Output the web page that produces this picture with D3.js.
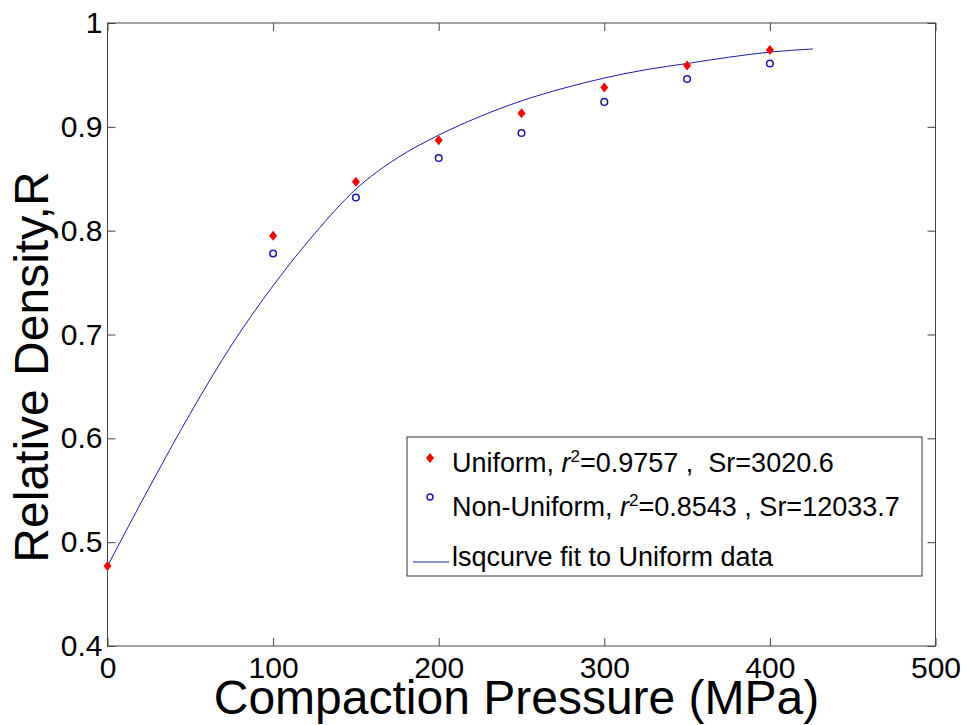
<!DOCTYPE html>
<html>
<head>
<meta charset="utf-8">
<title>Relative density vs compaction pressure</title>
<script src="https://d3js.org/d3.v7.min.js"></script>
<style>
body { margin: 0; background: #fff; }
svg { font-family: "Liberation Sans", Arial, sans-serif; }
.axis text { font-size: 30px; fill: #000; }
.axis line { stroke: #444; }
.axis path { display: none; }
</style>
</head>
<body>
<svg width="967" height="725"></svg>
<script>

// measured points
var pressure = [0, 100, 150, 200, 250, 300, 350, 400];
var uniform = [0.477, 0.795, 0.847, 0.887, 0.913, 0.938, 0.959, 0.974];
var pressureNU = [100, 150, 200, 250, 300, 350, 400];
var nonUniform = [0.778, 0.832, 0.870, 0.894, 0.924, 0.946, 0.961];

// lsqcurve fit
var fitP = [0, 25, 50, 75, 100, 125, 150, 175, 200, 225, 250, 275, 300, 325, 350, 375, 400, 426];
var fitR = [0.477, 0.552, 0.624, 0.690, 0.747, 0.797, 0.840, 0.870, 0.892, 0.910, 0.925, 0.937, 0.947, 0.955, 0.961, 0.967, 0.972, 0.975];

var xTicks = [0, 100, 200, 300, 400, 500];
var yTicks = [0.4, 0.5, 0.6, 0.7, 0.8, 0.9, 1];

var legendLabels = [
  ["Uniform, ", "r", "2", "=0.9757 ,  Sr=3020.6"],
  ["Non-Uniform, ", "r", "2", "=0.8543 , Sr=12033.7"],
  ["lsqcurve fit to Uniform data"]
];

var svg = d3.select("svg"),
    plotL = 107.5, plotR = 935.5, plotT = 23, plotB = 646;

var x = d3.scaleLinear().domain([0, 500]).range([plotL, plotR]);
var y = d3.scaleLinear().domain([0.4, 1]).range([plotB, plotT]);

// ticks on all four sides, pointing inward
svg.append("g").attr("class", "axis")
    .attr("transform", "translate(0," + plotB + ")")
    .call(d3.axisBottom(x).tickValues(xTicks).tickSize(-8).tickPadding(11).tickFormat(d3.format("d")));
svg.append("g").attr("class", "axis")
    .attr("transform", "translate(0," + plotT + ")")
    .call(d3.axisTop(x).tickValues(xTicks).tickSize(-8).tickFormat(""));
svg.append("g").attr("class", "axis")
    .attr("transform", "translate(" + plotL + ",0)")
    .call(d3.axisLeft(y).tickValues(yTicks).tickSize(-8).tickPadding(5).tickFormat(function(d) { return d === 1 ? "1" : d3.format(".1f")(d); }));
svg.append("g").attr("class", "axis")
    .attr("transform", "translate(" + plotR + ",0)")
    .call(d3.axisRight(y).tickValues(yTicks).tickSize(-8).tickFormat(""));

svg.append("rect")
    .attr("x", plotL).attr("y", plotT)
    .attr("width", plotR - plotL).attr("height", plotB - plotT)
    .attr("fill", "none").attr("stroke", "#444");

// fit curve
var line = d3.line()
    .x(function(d, i) { return x(fitP[i]); })
    .y(function(d) { return y(d); })
    .curve(d3.curveMonotoneX);

svg.append("path")
    .datum(fitR)
    .attr("d", line)
    .attr("fill", "none")
    .attr("stroke", "#1c1ca8")
    .attr("stroke-width", 1);

var diamond = "M0,-5L4,0L0,5L-4,0Z";

svg.append("g").selectAll("circle")
    .data(nonUniform).enter().append("circle")
    .attr("cx", function(d, i) { return x(pressureNU[i]); })
    .attr("cy", function(d) { return y(d); })
    .attr("r", 3.3)
    .attr("fill", "none")
    .attr("stroke", "#1a1aa8")
    .attr("stroke-width", 1.5);

svg.append("g").selectAll("path")
    .data(uniform).enter().append("path")
    .attr("d", diamond)
    .attr("transform", function(d, i) { return "translate(" + x(pressure[i]) + "," + y(d) + ")"; })
    .attr("fill", "#ff0000");

// legend
var lg = svg.append("g");
lg.append("rect")
    .attr("x", 407).attr("y", 437).attr("width", 515).attr("height", 139)
    .attr("fill", "#fff").attr("stroke", "#333");

var rowY = [462, 506, 556];
legendLabels.forEach(function(parts, i) {
  var t = lg.append("text")
      .attr("x", 452).attr("y", rowY[i]).attr("dy", "0.36em")
      .attr("font-size", 27)
      .style("white-space", "pre");
  if (parts.length === 1) {
    t.text(parts[0]);
  } else {
    t.append("tspan").text(parts[0]);
    t.append("tspan").attr("font-style", "italic").text(parts[1]);
    t.append("tspan").attr("font-size", 17).attr("dy", "-0.6em").text(parts[2]);
    t.append("tspan").attr("dy", "0.38em").text(parts[3]);
  }
});
lg.append("path").attr("d", diamond)
    .attr("transform", "translate(430," + (rowY[0] - 4) + ")")
    .attr("fill", "#ff0000");
lg.append("circle").attr("cx", 430).attr("cy", rowY[1] - 9).attr("r", 3)
    .attr("fill", "none").attr("stroke", "#1a1aa8").attr("stroke-width", 1.5);
lg.append("line").attr("x1", 413).attr("x2", 449)
    .attr("y1", rowY[2] + 6).attr("y2", rowY[2] + 6)
    .attr("stroke", "#1c1ca8");

// axis titles
svg.append("text")
    .attr("x", (plotL + plotR) / 2 - 5).attr("y", 714)
    .attr("text-anchor", "middle").attr("font-size", 48)
    .text("Compaction Pressure (MPa)");
svg.append("text")
    .attr("transform", "translate(48,367) rotate(-90)")
    .attr("text-anchor", "middle").attr("font-size", 48)
    .text("Relative Density,R");

</script>
</body>
</html>
